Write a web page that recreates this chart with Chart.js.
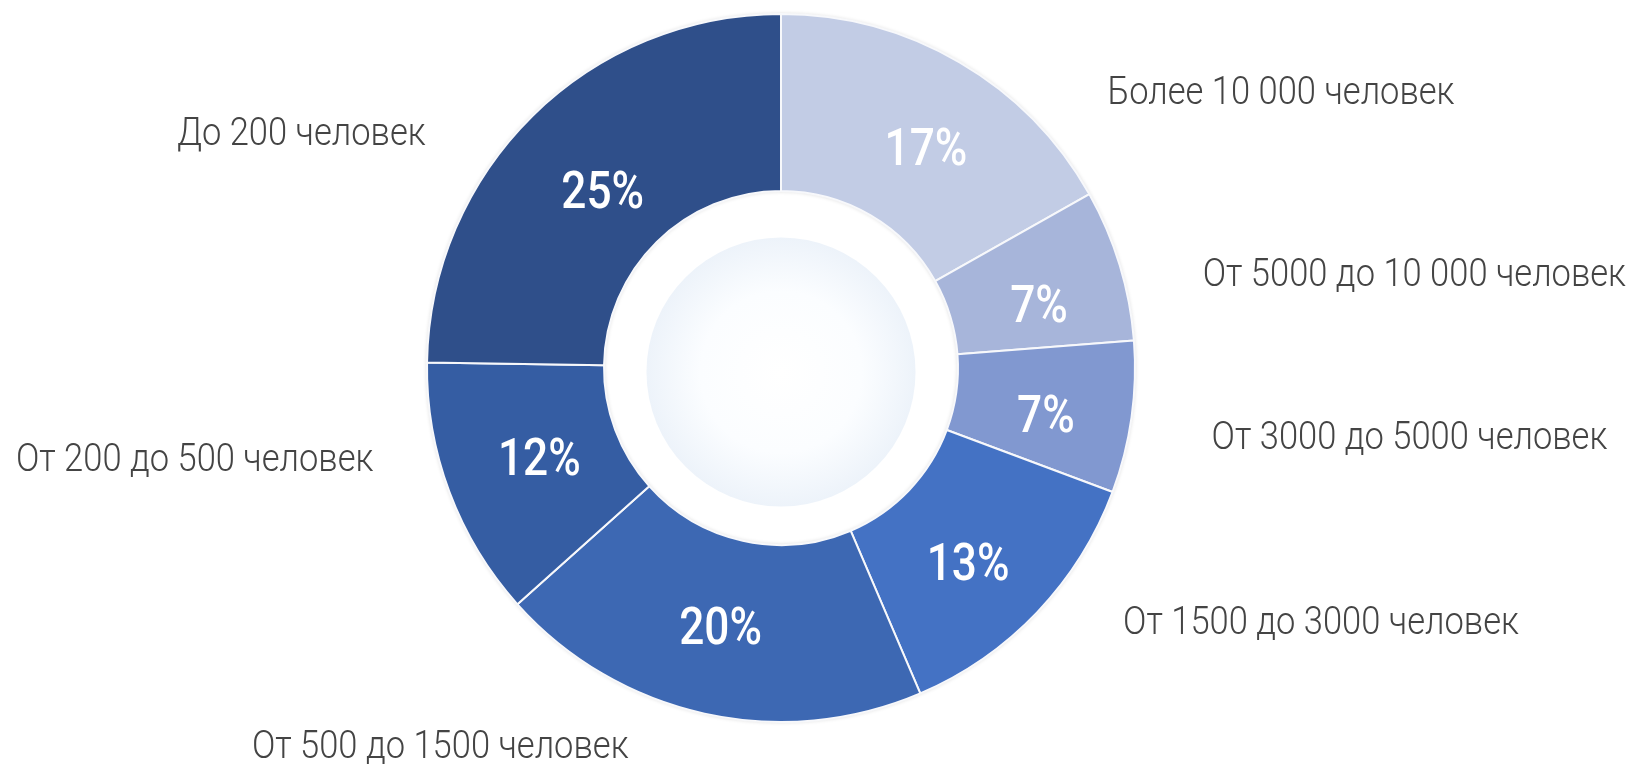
<!DOCTYPE html>
<html lang="ru">
<head>
<meta charset="utf-8">
<title>Распределение по численности персонала</title>
<script src="https://cdn.jsdelivr.net/npm/chart.js@4/dist/chart.umd.min.js"></script>
<style>
  html, body { margin: 0; padding: 0; background: #ffffff; }
  #wrap { position: relative; width: 1628px; height: 767px; }
</style>
</head>
<body>
<div id="wrap"><canvas id="chart" width="1628" height="767"></canvas></div>
<script>
// Размер компании (численность персонала), доля ответов в %
const categories = [
  'Более 10 000 человек',
  'От 5000 до 10 000 человек',
  'От 3000 до 5000 человек',
  'От 1500 до 3000 человек',
  'От 500 до 1500 человек',
  'От 200 до 500 человек',
  'До 200 человек'
];
const shares = [17, 7, 7, 13, 20, 12, 25];

// Оформление сегментов
const segmentColors = ['#c2cce5', '#a7b5da', '#8198d0', '#4472c4', '#3d68b3', '#355da3', '#2f4f8a'];

// Подписи категорий: отступ от внешнего края кольца и поправки [dx, dy]
const outerGap = 80;
const outerNudge = [[68, 32], [3, 11], [0, 22], [6, 12], [4, 35], [4, -31], [-27, 20]];
// Процентные подписи внутри кольца: поправки [dx, dy]
const innerNudge = [[11, 13], [4, 18], [2, 14], [-5, 16], [-3, 4], [7, 1], [8, 16]];

// Узкое начертание: обычный шрифт, сжатый по горизонтали
const LABEL_FONT = 'Roboto, "Noto Sans", sans-serif';
const NAME_FONT = '300 39px ' + LABEL_FONT;
const NAME_SQUEEZE = 0.885;
const PCT_FONT = '500 52px ' + LABEL_FONT;
const PCT_SQUEEZE = 0.85;

function squeezedText(ctx, text, x, y, sx) {
  ctx.save();
  ctx.translate(x, y);
  ctx.scale(sx, 1);
  ctx.fillText(text, 0, 0);
  ctx.restore();
}

// Центральный круг с мягким радиальным градиентом
const centerDisc = {
  id: 'centerDisc',
  beforeDatasetsDraw(chart) {
    const arc = chart.getDatasetMeta(0).data[0];
    if (!arc) return;
    const { x, y, innerRadius, outerRadius } = arc.getProps(['x', 'y', 'innerRadius', 'outerRadius'], true);
    const ctx = chart.ctx;
    ctx.save();
    // лёгкая тень вокруг кольца
    ctx.beginPath();
    ctx.arc(x, y, outerRadius, 0, Math.PI * 2);
    ctx.arc(x, y, innerRadius, 0, Math.PI * 2, true);
    ctx.shadowColor = 'rgba(0,0,0,0.18)';
    ctx.shadowBlur = 4;
    ctx.fillStyle = '#ffffff';
    ctx.fill();
    ctx.restore();

    const r = innerRadius * 0.76;
    ctx.save();
    const g = ctx.createRadialGradient(x, y + 4, 0, x, y + 4, r);
    g.addColorStop(0, '#ffffff');
    g.addColorStop(0.6, '#fbfdff');
    g.addColorStop(1, '#edf3fa');
    ctx.beginPath();
    ctx.arc(x, y + 4, r, 0, Math.PI * 2);
    ctx.fillStyle = g;
    ctx.fill();
    ctx.restore();
  }
};

// Подписи: проценты внутри сегментов и названия категорий снаружи
const sliceLabels = {
  id: 'sliceLabels',
  afterDatasetsDraw(chart) {
    const ctx = chart.ctx;
    const meta = chart.getDatasetMeta(0);
    const data = chart.data.datasets[0].data;
    meta.data.forEach((arc, i) => {
      const p = arc.getProps(['x', 'y', 'startAngle', 'endAngle', 'innerRadius', 'outerRadius'], true);
      const mid = (p.startAngle + p.endAngle) / 2;
      const cos = Math.cos(mid), sin = Math.sin(mid);

      // процент
      const rm = (p.innerRadius + p.outerRadius) / 2;
      ctx.save();
      ctx.font = PCT_FONT;
      ctx.fillStyle = '#ffffff';
      ctx.textAlign = 'center';
      ctx.textBaseline = 'middle';
      squeezedText(ctx, data[i] + '%', p.x + cos * rm + innerNudge[i][0], p.y + sin * rm + innerNudge[i][1], PCT_SQUEEZE);
      ctx.restore();

      // название категории
      const ax = p.x + cos * p.outerRadius;
      const ay = p.y + sin * p.outerRadius;
      const right = cos >= 0;
      ctx.save();
      ctx.font = NAME_FONT;
      ctx.fillStyle = '#444444';
      ctx.textAlign = right ? 'left' : 'right';
      ctx.textBaseline = 'middle';
      const lx = ax + (right ? outerGap : -outerGap) + outerNudge[i][0];
      squeezedText(ctx, chart.data.labels[i], lx, ay + outerNudge[i][1], NAME_SQUEEZE);
      ctx.restore();
    });
  }
};

new Chart(document.getElementById('chart'), {
  type: 'doughnut',
  data: {
    labels: categories,
    datasets: [{
      data: shares,
      backgroundColor: segmentColors,
      borderColor: '#f7f8fb',
      borderWidth: 2,
      hoverOffset: 0
    }]
  },
  options: {
    responsive: false,
    animation: false,
    cutout: '50%',
    layout: { padding: { top: 13, bottom: 44, left: 0, right: 66 } },
    plugins: {
      legend: { display: false },
      tooltip: { enabled: false }
    }
  },
  plugins: [centerDisc, sliceLabels]
});
</script>
</body>
</html>
